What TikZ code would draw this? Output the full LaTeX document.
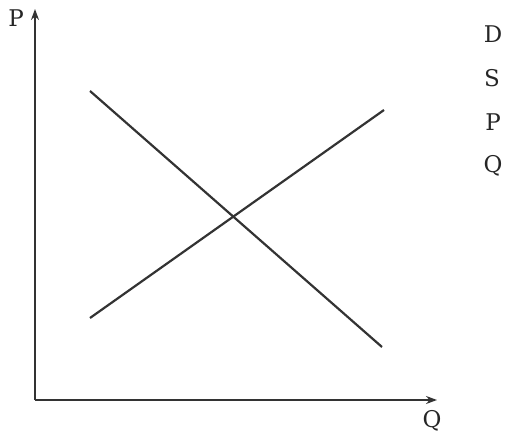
\documentclass[tikz,border=0pt]{standalone}
\usepackage{fontspec}
\setmainfont{DejaVu Serif}
\usetikzlibrary{arrows.meta}
\begin{document}
\begin{tikzpicture}[x=1pt,y=-1pt,
  axis/.style={draw=black!80, line width=2.2pt, -{Stealth[length=11pt,width=8pt]}},
  curve/.style={draw=black!80, line width=2.2pt},
  lbl/.style={font=\fontsize{23}{27}\selectfont, text=black!85, inner sep=0pt}]
\useasboundingbox (0,0) rectangle (506,438);
\coordinate (O) at (35,400);
\coordinate (Ptop) at (35,9);
\coordinate (Qend) at (437,400);
\draw[axis] (O) -- (Ptop);
\draw[axis] (O) -- (Qend);
\node[lbl] (Plab) at (16,18) {P};
\node[lbl] (Qlab) at (432,421) {Q};
\coordinate (D1) at (90,91);
\coordinate (D2) at (382,347);
\coordinate (S1) at (90,318);
\coordinate (S2) at (384,110);
\draw[curve] (D1) -- (D2);
\draw[curve] (S1) -- (S2);
\node[lbl] (kd) at (493,34) {D};
\node[lbl] (ks) at (492,78) {S};
\node[lbl] (kp) at (493,122) {P};
\node[lbl] (kq) at (493,166) {Q};
\end{tikzpicture}
\end{document}
